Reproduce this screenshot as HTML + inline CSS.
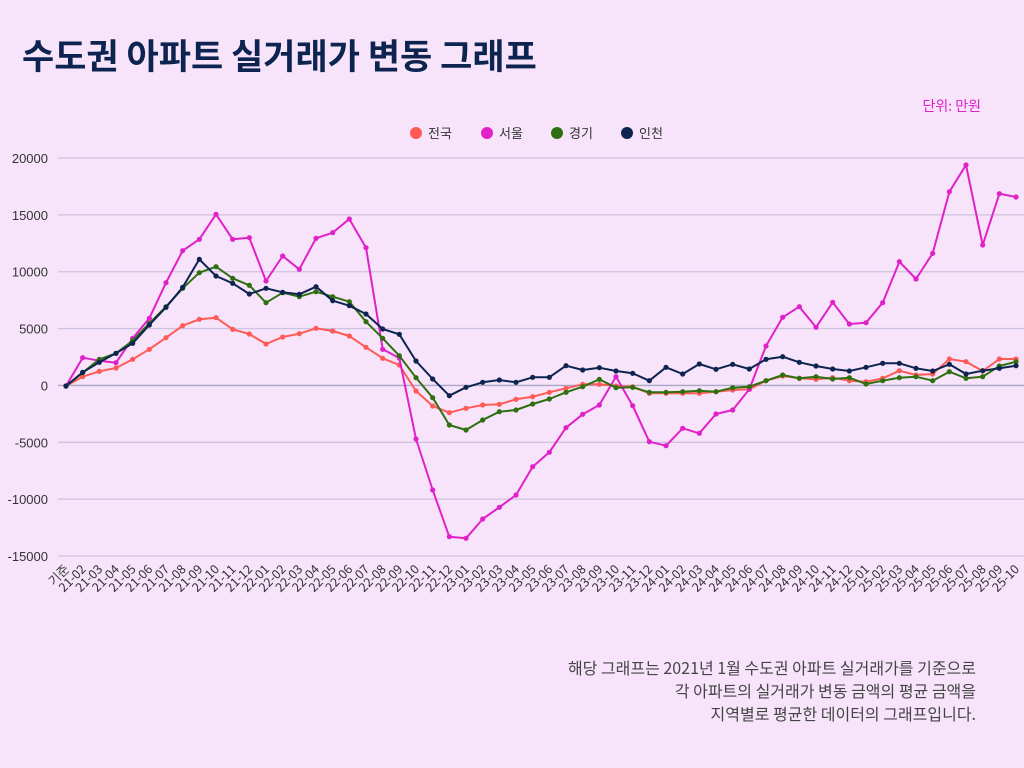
<!DOCTYPE html>
<html><head><meta charset="utf-8"><style>
html,body{margin:0;padding:0;background:#f7e4fa;}
svg{display:block;font-family:"Liberation Sans","Noto Sans CJK KR",sans-serif;}
</style></head><body>
<svg id="s" width="1024" height="768" viewBox="0 0 1024 768" xmlns="http://www.w3.org/2000/svg">
<rect width="1024" height="768" fill="#f7e4fa"/>
<text x="22" y="69" font-size="35" font-weight="bold" fill="#0d2350" font-family="'Noto Sans CJK KR',sans-serif">수도권 아파트 실거래가 변동 그래프</text>
<text x="981" y="111" font-size="14" fill="#e020c8" text-anchor="end" font-family="'Noto Sans CJK KR',sans-serif">단위: 만원</text>
<g font-size="13" fill="#333" font-family="'Noto Sans CJK KR',sans-serif">
<circle cx="416" cy="133" r="6" fill="#ff5a55"/><text x="428" y="138">전국</text>
<circle cx="487" cy="133" r="6" fill="#e020c8"/><text x="499" y="138">서울</text>
<circle cx="557" cy="133" r="6" fill="#2e7010"/><text x="569" y="138">경기</text>
<circle cx="627" cy="133" r="6" fill="#0d2350"/><text x="639" y="138">인천</text>
</g>
<g id="grid"></g>
<g id="lines"></g>
<g font-size="16" fill="#444" text-anchor="end" font-family="'Noto Sans CJK KR',sans-serif">
<text x="976" y="674">해당 그래프는 2021년 1월 수도권 아파트 실거래가를 기준으로</text>
<text x="976" y="697">각 아파트의 실거래가 변동 금액의 평균 금액을</text>
<text x="976" y="720">지역별로 평균한 데이터의 그래프입니다.</text>
</g>
</svg>
<script>
var NS="http://www.w3.org/2000/svg";
function el(t,a,p,txt){var e=document.createElementNS(NS,t);for(var k in a)e.setAttribute(k,a[k]);if(txt!==undefined)e.textContent=txt;p.appendChild(e);return e;}
var g=document.getElementById('grid');
var vals=[20000,15000,10000,5000,0,-5000,-10000,-15000];
for(var i=0;i<8;i++){var y=158+i*56.86;
el('line',{x1:58,x2:1024,y1:y,y2:y,stroke:vals[i]==0?'#aaa6c6':'#cdc2df','stroke-width':1.3},g);
el('text',{x:48,y:y+5,'font-size':13,fill:'#333','text-anchor':'end'},g,String(vals[i]));}
var labels=['기준'];
for(var yy=21;yy<=25;yy++){for(var m=1;m<=12;m++){if(yy==21&&m==1)continue;if(yy==25&&m>10)continue;labels.push(yy+'-'+(m<10?'0':'')+m);}}
function X(i){return 66+i*16.667;}
for(var i=0;i<labels.length;i++){var x=X(i);
el('text',{x:x+4,y:570,'font-size':12.5,fill:'#333','text-anchor':'end',transform:'rotate(-45 '+(x+4)+' 570)','font-family':"'Noto Sans CJK KR',sans-serif"},g,labels[i]);}
var red=[386,376.7,371.3,368,359.3,349.3,337.7,325.7,319.3,317.7,329.3,334,344,337,333.7,328.3,331,336,347.3,358.3,365,391,406,412.7,408.3,405,404.3,399.3,396.7,392.3,388.3,384.3,384.3,386,386.7,393.3,393.3,393.3,393.3,391.7,390,389.3,380.7,376,378.3,379.3,377.7,380.7,381.7,378.3,370.7,375,374,359,361.7,371,359,359];
var mag=[386,357.7,360.7,362.7,338.3,318.3,282.7,250.7,239.3,214.3,239.3,237.7,281,256,269.3,238.3,232.7,219,247.7,349.3,358,439,490,536.7,538.3,519,507.3,495,466.7,452.3,427.7,414.3,405,376.7,405.7,441.7,445.7,428.3,433.3,414,410,389.3,346,317.3,306.7,327.3,302.3,324,322.7,302.7,261.7,279,253.3,191.7,165,245,193.7,197];
var grn=[386,372.7,359.3,353.3,340.7,323.3,306.7,288.3,272.7,266.7,278.3,285.3,302.7,292.7,296.7,291.7,296.7,301.7,321.7,338.3,355.7,377.7,397.7,425,430,420,411.7,410,404,399,392.3,386.7,379.3,387.7,387.3,392.3,392.3,391.7,390.7,391.7,387.7,386.7,380.7,375,378.3,376.7,379,377.7,384,380.7,377.7,376.7,380.7,371.7,378.3,376.7,366,361.7];
var nav=[386,372.3,362.3,353.3,343.3,325,307.3,287.3,259.3,276,283.3,294,288.3,292.3,294.3,286.7,300.7,305.7,314,329,334.3,361,379,395.7,387.3,382.3,380,382.3,377.3,377.3,365.7,370,367.7,371,373.3,380.7,367.3,374,364,369.3,364.3,369,359.3,356.7,362.3,366,369,371,367.3,363.3,363.3,368.3,371,364.3,374,370.7,368.3,365.7];
var L=document.getElementById('lines');
[[red,'#ff5a55'],[mag,'#e020c8'],[grn,'#2e7010'],[nav,'#0d2350']].forEach(function(s){
var pts=s[0].map(function(v,i){return X(i).toFixed(1)+','+v;}).join(' ');
el('polyline',{points:pts,fill:'none',stroke:s[1],'stroke-width':2,'stroke-linejoin':'round'},L);
s[0].forEach(function(v,i){el('circle',{cx:X(i),cy:v,r:2.6,fill:s[1]},L);});});
</script>
</body></html>
